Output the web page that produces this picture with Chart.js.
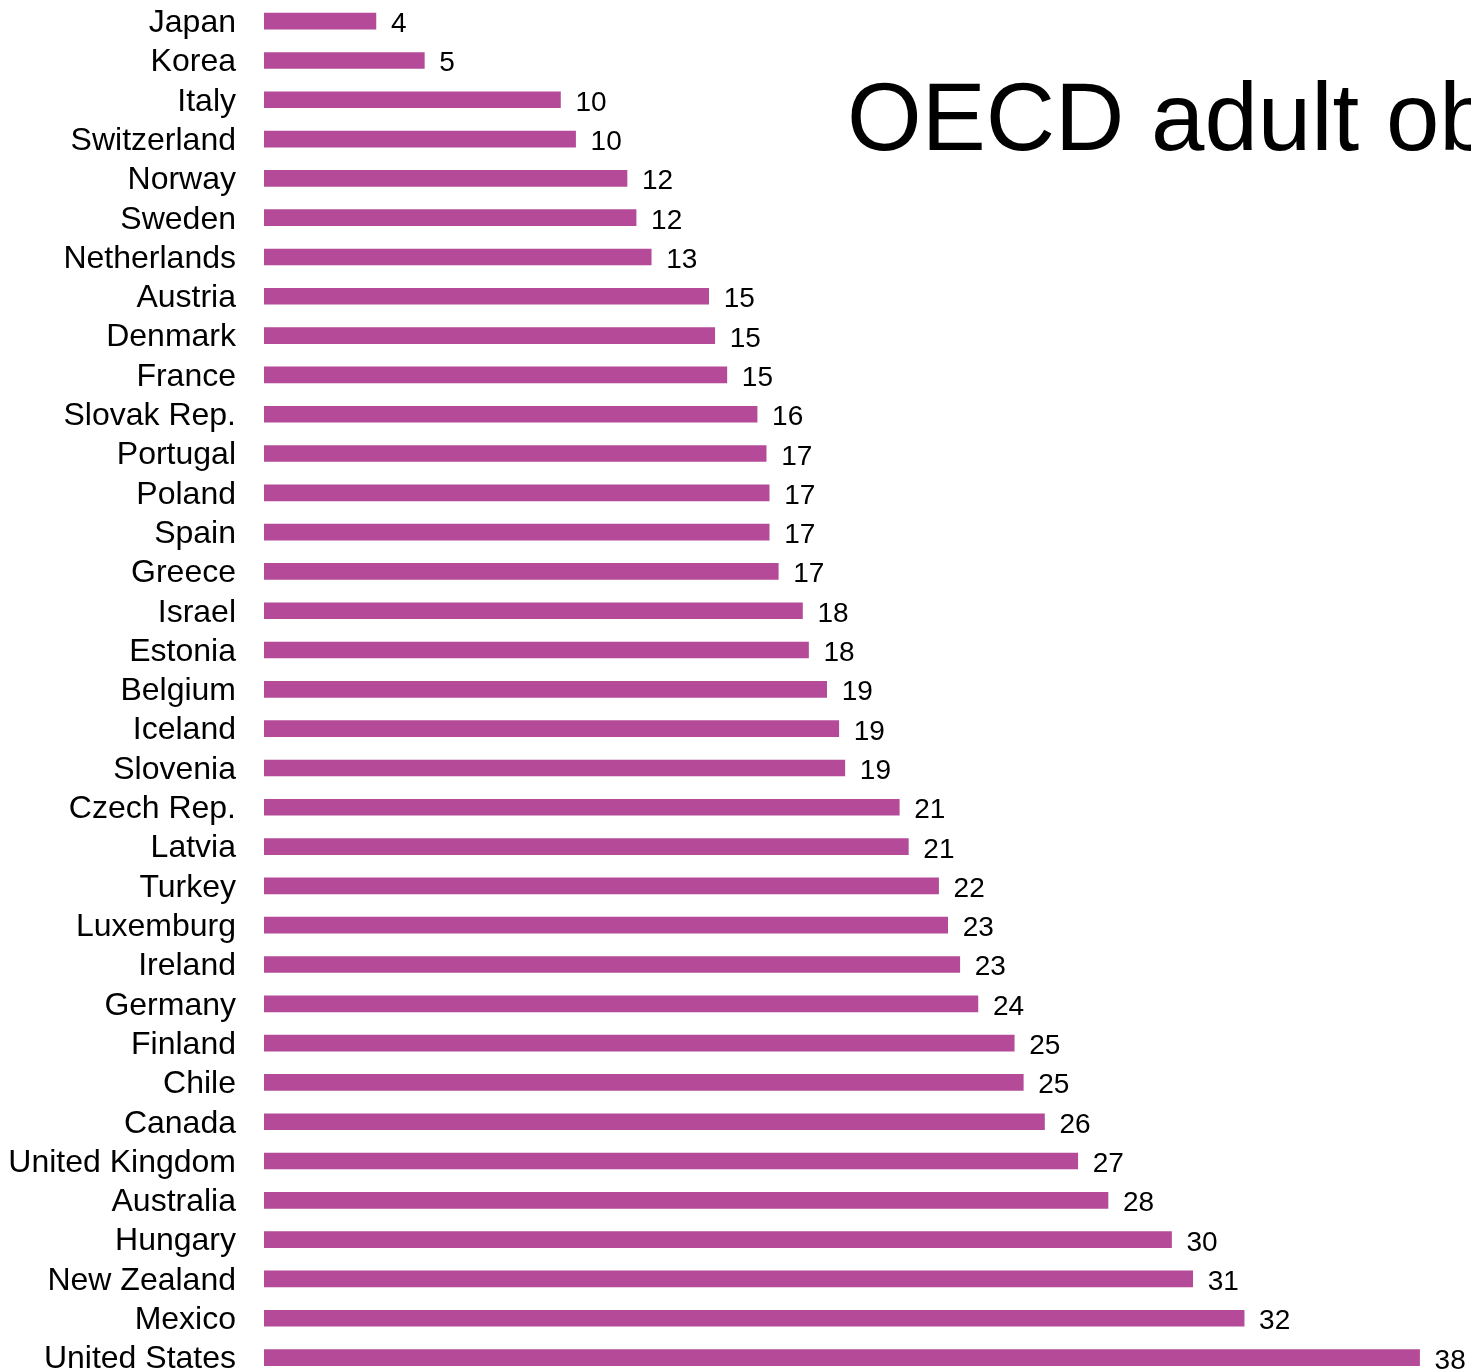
<!DOCTYPE html>
<html>
<head>
<meta charset="utf-8">
<script src="https://cdn.jsdelivr.net/npm/chart.js@4/dist/chart.umd.min.js"></script>
<style>
  html, body { margin: 0; padding: 0; background: #fff; overflow: hidden; }
  #wrap { position: relative; width: 1471px; height: 1379px; }
  #title { position: absolute; left: 847px; top: 62px; font-family: "Liberation Sans", Arial, sans-serif; font-size: 96px; line-height: 110px; color: #000; white-space: nowrap; }
</style>
</head>
<body>
<div id="wrap">
  <canvas id="c" width="1471" height="1379"></canvas>
  <div id="title">OECD adult obesity rates</div>
</div>
<script>
const countries = ["Japan","Korea","Italy","Switzerland","Norway","Sweden","Netherlands","Austria","Denmark","France","Slovak Rep.","Portugal","Poland","Spain","Greece","Israel","Estonia","Belgium","Iceland","Slovenia","Czech Rep.","Latvia","Turkey","Luxemburg","Ireland","Germany","Finland","Chile","Canada","United Kingdom","Australia","Hungary","New Zealand","Mexico","United States"];
const obesityRates = [3.7,5.3,9.8,10.3,12.0,12.3,12.8,14.7,14.9,15.3,16.3,16.6,16.7,16.7,17.0,17.8,18.0,18.6,19.0,19.2,21.0,21.3,22.3,22.6,23.0,23.6,24.8,25.1,25.8,26.9,27.9,30.0,30.7,32.4,38.2];

const valueLabels = {
  id: 'valueLabels',
  afterDatasetsDraw(chart) {
    const ctx = chart.ctx;
    const meta = chart.getDatasetMeta(0);
    ctx.save();
    ctx.font = '28px "Liberation Sans", Arial, sans-serif';
    ctx.fillStyle = '#000';
    ctx.textAlign = 'left';
    ctx.textBaseline = 'alphabetic';
    meta.data.forEach((bar, i) => {
      ctx.fillText(String(Math.round(obesityRates[i])), bar.x + 15, bar.y + 11);
    });
    ctx.restore();
  }
};

new Chart(document.getElementById('c'), {
  type: 'bar',
  data: {
    labels: countries,
    datasets: [{
      data: obesityRates,
      backgroundColor: 'rgb(180,74,152)',
      borderWidth: 0,
      barThickness: 16
    }]
  },
  options: {
    indexAxis: 'y',
    responsive: false,
    animation: false,
    events: [],
    layout: { padding: { top: 1.5, bottom: 1.8, left: 0, right: 0 } },
    plugins: { legend: { display: false }, tooltip: { enabled: false }, title: { display: false } },
    scales: {
      x: { display: false, min: 0, max: 39.9 },
      y: {
        offset: true,
        grid: { display: false, drawTicks: false },
        border: { display: false },
        ticks: {
          padding: 28,
          labelOffset: 2,
          color: '#000',
          autoSkip: false,
          font: { family: '"Liberation Sans", Arial, sans-serif', size: 32 }
        },
        afterFit(scale) {
          scale.width = 264;
          scale.paddingTop = 0;
          scale.paddingBottom = 0;
        }
      }
    }
  },
  plugins: [valueLabels]
});
</script>
</body>
</html>
